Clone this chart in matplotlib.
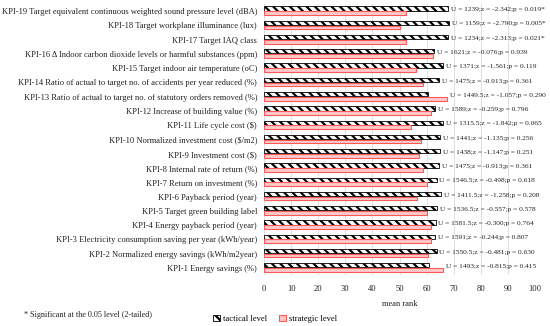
import matplotlib
matplotlib.use("Agg")
import matplotlib.pyplot as plt
from matplotlib.patches import Patch
import numpy as np

plt.rcParams["font.family"] = ["Liberation Serif", "DejaVu Serif"]
plt.rcParams["hatch.linewidth"] = 1.6

FS_LAB = 6.1   # category labels, legend, footnote
FS_ANN = 5.3   # statistics next to the bars

kpi_labels = [
    "KPI-1 Energy savings (%)",
    "KPI-2 Normalized energy savings (kWh/m2year)",
    "KPI-3 Electricity consumption saving per year (kWh/year)",
    "KPI-4 Energy payback period (year)",
    "KPI-5 Target green building label",
    "KPI-6 Payback period (year)",
    "KPI-7 Return on investment (%)",
    "KPI-8 Internal rate of return (%)",
    "KPI-9 Investment cost ($)",
    "KPI-10 Normalized investment cost ($/m2)",
    "KPI-11 Life cycle cost ($)",
    "KPI-12 Increase of building value (%)",
    "KPI-13 Ratio of actual to target no. of statutory orders removed (%)",
    "KPI-14 Ratio of actual to target no. of accidents per year reduced (%)",
    "KPI-15 Target indoor air temperature (oC)",
    "KPI-16 \u0394 Indoor carbon dioxide levels or harmful substances (ppm)",
    "KPI-17 Target IAQ class",
    "KPI-18 Target workplane illuminance (lux)",
    "KPI-19 Target equivalent continuous weighted sound pressure level (dBA)",
]

tactical = [61.0, 63.7, 63.1, 63.3, 63.9, 65.3, 63.7, 64.6, 64.9, 64.9,
            66.2, 63.1, 60.6, 64.7, 66.2, 62.9, 68.0, 68.3, 68.0]
strategic = [66.2, 60.4, 61.5, 61.5, 60.0, 56.6, 60.3, 58.6, 57.3, 57.8,
             54.1, 61.5, 67.5, 58.6, 56.0, 62.5, 52.3, 50.2, 52.3]

stats = [
    "U = 1493;z = -0.815;p = 0.415",
    "U = 1550.5;z = -0.481;p = 0.630",
    "U = 1591;z = -0.244;p = 0.807",
    "U = 1581.5;z = -0.300;p = 0.764",
    "U = 1536.5;z = -0.557;p = 0.578",
    "U = 1411.5;z = -1.258;p = 0.208",
    "U = 1546.5;z = -0.498;p = 0.618",
    "U = 1475;z = -0.913;p = 0.361",
    "U = 1438;z = -1.147;p = 0.251",
    "U = 1441;z = -1.135;p = 0.256",
    "U = 1315.5;z = -1.842;p = 0.065",
    "U = 1589;z = -0.259;p = 0.796",
    "U = 1449.5;z = -1.057;p = 0.290",
    "U = 1475;z = -0.913;p = 0.361",
    "U = 1371;z = -1.561;p = 0.119",
    "U = 1621;z = -0.076;p = 0.939",
    "U = 1234;z = -2.313;p = 0.021*",
    "U = 1159;z = -2.790;p = 0.005*",
    "U = 1239;z = -2.342;p = 0.019*",
]

fig = plt.figure(figsize=(5.5, 3.26), dpi=100)
ax = fig.add_axes([264 / 550, 1 - 275 / 326, (535 - 264) / 550, 271 / 326])

y = np.arange(len(kpi_labels))
ax.barh(y + 0.18, tactical, height=0.3, color="white", edgecolor="black",
        hatch="\\\\\\\\", linewidth=0.6, zorder=3)
ax.barh(y - 0.14, strategic, height=0.26, color="#ffc9c9", edgecolor="#ff5a5a",
        linewidth=0.8, zorder=3)

for yi, t, s, txt in zip(y, tactical, strategic, stats):
    ax.text(max(t, s) + 1.0, yi + 0.1, txt, va="center", ha="left",
            fontsize=FS_ANN, color="#222222", clip_on=False)

ax.set_xlim(0, 100)
ax.set_ylim(-0.5, len(kpi_labels) - 0.5)
ax.set_xticks(np.arange(0, 101, 10))
ax.set_yticks(y)
ax.set_yticklabels(kpi_labels, fontsize=FS_LAB, color="#222222")
ax.tick_params(axis="y", length=0, pad=5, labelsize=FS_LAB, colors="#222222")
ax.tick_params(axis="x", length=0, pad=7, labelsize=FS_LAB, colors="#222222")
ax.grid(axis="x", color="#d9d9d9", linewidth=0.6, zorder=0)
for sp in ax.spines.values():
    sp.set_visible(False)
ax.set_xlabel("mean rank", fontsize=FS_LAB, color="#222222", labelpad=5)

handles = [
    Patch(facecolor="white", edgecolor="black", hatch="\\\\\\\\", linewidth=0.6, label="tactical level"),
    Patch(facecolor="#ffc9c9", edgecolor="#ff5a5a", linewidth=0.8, label="strategic level"),
]
fig.legend(handles=handles, loc="center", bbox_to_anchor=(0.5, 1 - 319 / 326),
           ncol=2, frameon=False, fontsize=FS_LAB, handlelength=0.8, handleheight=0.8,
           handletextpad=0.3, columnspacing=1.5)

fig.text(24 / 550, 1 - 315 / 326, "* Significant at the 0.05 level (2-tailed)",
         fontsize=FS_LAB - 0.2, color="#222222", va="center", ha="left")

fig.savefig("out.png", dpi=100)
